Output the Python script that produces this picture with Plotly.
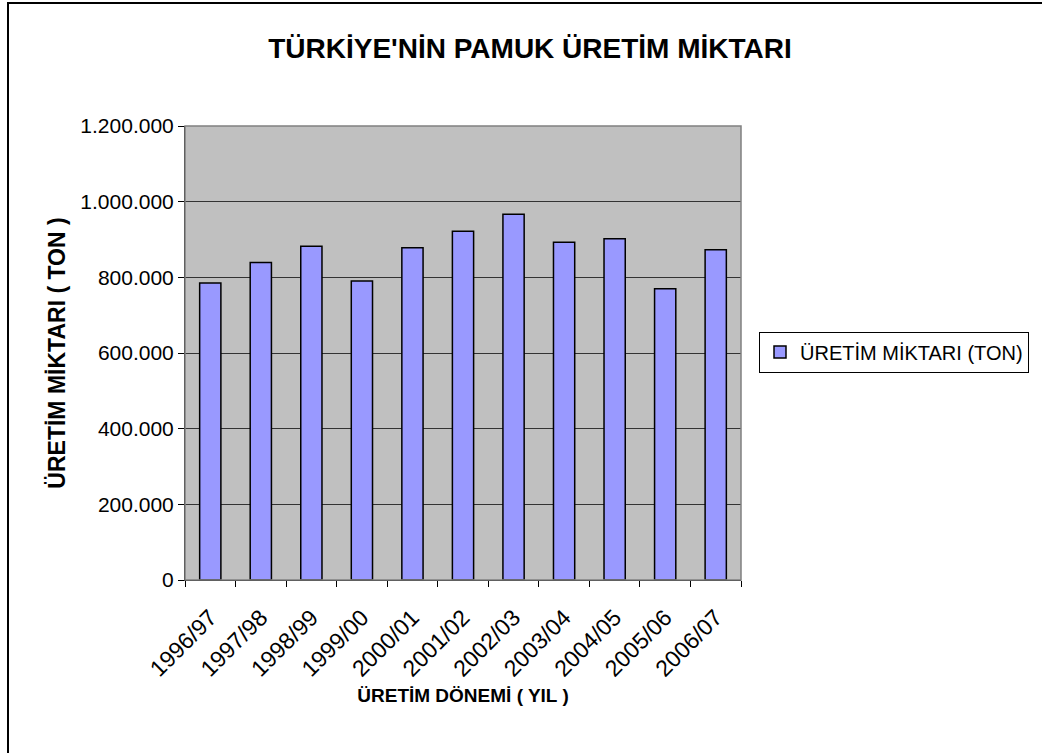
import plotly.graph_objects as go

categories = ["1996/97", "1997/98", "1998/99", "1999/00", "2000/01", "2001/02",
              "2002/03", "2003/04", "2004/05", "2005/06", "2006/07"]
production = [785000, 839000, 882000, 790000, 878000, 922000,
              967000, 893000, 902000, 770000, 873000]
series_name = "ÜRETİM MİKTARI (TON)"
y_ticks = [0, 200000, 400000, 600000, 800000, 1000000, 1200000]

FONT = "Liberation Sans, Arial, sans-serif"

fig = go.Figure()
fig.add_trace(go.Bar(
    x=categories, y=production, name=series_name,
    marker=dict(color="#9999FF", line=dict(color="black", width=1.5)),
    showlegend=True,
))

W, H = 1042, 753
L, R, T, B = 185, 301, 126, 173
pw, ph = W - L - R, H - T - B

def px(x):
    return (x - L) / pw

def py(y):
    return (H - B - y) / ph

fig.update_layout(
    width=W, height=H,
    margin=dict(l=L, r=R, t=T, b=B, autoexpand=False),
    paper_bgcolor="white",
    plot_bgcolor="#C0C0C0",
    separators=",.",
    font=dict(family=FONT, size=21, color="black"),
    bargap=0.58,
    title=dict(text="<b>TÜRKİYE'NİN PAMUK ÜRETİM MİKTARI</b>",
               font=dict(family=FONT, size=28, color="black"),
               x=px(530), xref="paper", xanchor="center",
               y=1 - 48 / H, yanchor="middle"),
    xaxis=dict(
        type="category",
        tickangle=-45,
        ticks="outside", ticklen=6, tickcolor="black", tickson="boundaries",
        ticklabelstandoff=14,
        showline=True, linecolor="black", linewidth=1,
        showgrid=False,
        tickfont=dict(family=FONT, size=23),
        title=dict(text="<b>ÜRETİM DÖNEMİ ( YIL )</b>",
                   font=dict(family=FONT, size=19), standoff=8),
    ),
    yaxis=dict(
        range=[0, 1200000],
        tickvals=y_ticks,
        tickformat=",d",
        ticks="outside", ticklen=6, tickcolor="black",
        showline=True, linecolor="black", linewidth=1,
        showgrid=True, gridcolor="#333333", gridwidth=1,
        zeroline=False,
        tickfont=dict(family=FONT, size=21),
        title=dict(text="<b>ÜRETİM MİKTARI ( TON )</b>",
                   font=dict(family=FONT, size=23), standoff=8),
    ),
    legend=dict(
        x=px(759), y=py(352), xanchor="left", yanchor="middle",
        bgcolor="white", bordercolor="black", borderwidth=1,
        font=dict(family=FONT, size=20),
        itemwidth=30,
    ),
    shapes=[
        dict(type="rect", xref="paper", yref="paper", x0=0, x1=1, y0=0, y1=1,
             line=dict(color="#808080", width=1.5), fillcolor="rgba(0,0,0,0)",
             layer="above"),
        dict(type="rect", xref="paper", yref="paper",
             x0=px(8), x1=px(1060), y0=py(770), y1=py(3),
             line=dict(color="black", width=2), fillcolor="rgba(0,0,0,0)"),
    ],
)

fig.write_html("out.html", config={"displayModeBar": False},
               post_script="document.body.style.margin='0';document.body.style.overflow='hidden';")
